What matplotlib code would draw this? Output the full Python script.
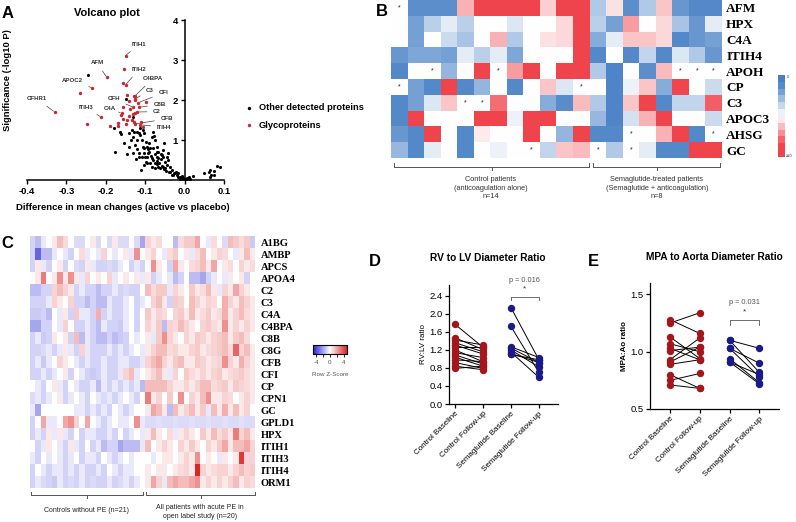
import numpy as np
import matplotlib
matplotlib.use('Agg')
import matplotlib.pyplot as plt
from matplotlib.colors import LinearSegmentedColormap

plt.rcParams['font.family'] = ['Liberation Sans', 'DejaVu Sans']

# ---------------- Panel A: volcano data ----------------
other_x = [-0.244, -0.148, -0.130, -0.178, -0.165, -0.162, -0.176, -0.153, -0.145, -0.134,
           -0.136, -0.130, -0.126, -0.121, -0.120, -0.113, -0.113, -0.109, -0.106, -0.103,
           -0.111, -0.104, -0.099, -0.096, -0.092, -0.090, -0.088, -0.083, -0.079, -0.077,
           -0.075, -0.071, -0.083, -0.079, -0.075, -0.071, -0.067, -0.064, -0.060, -0.058,
           -0.054, -0.052, -0.050, -0.045, -0.041, -0.037, -0.033, -0.024, -0.020, -0.016,
           -0.011, -0.007, -0.005, -0.001, 0.002, 0.005, 0.010, 0.022, 0.048, 0.063,
           0.064, 0.066, 0.065, 0.075, 0.075, 0.081, 0.089, -0.091, -0.098, -0.096,
           -0.094, -0.104, -0.116, -0.115, -0.123, -0.088, -0.083, -0.071, -0.067, -0.062,
           -0.055, -0.052, -0.047, -0.045, -0.041, -0.075, -0.079, -0.071, -0.060, -0.055,
           -0.067, -0.075, -0.096, -0.100, -0.109, -0.121, -0.128, -0.140, -0.130, -0.115,
           -0.106, -0.103, -0.028, -0.022, -0.016, -0.011, -0.007, -0.003, 0.001, 0.007,
           0.014, -0.033, -0.039, -0.142, -0.086, -0.069, -0.058, -0.049, -0.036, -0.030]
other_y = [2.62, 2.02, 1.58, 1.29, 1.19, 1.15, 0.69, 0.93, 0.65, 1.25,
           1.00, 1.08, 0.88, 1.21, 0.77, 1.29, 1.13, 1.00, 0.83, 0.67,
           0.25, 0.38, 0.46, 0.58, 0.67, 0.71, 0.79, 1.08, 1.21, 1.10,
           1.00, 0.83, 0.54, 0.50, 0.65, 0.58, 0.71, 0.42, 0.52, 0.63,
           0.75, 0.92, 0.46, 0.38, 0.50, 0.33, 0.25, 0.18, 0.13, 0.08,
           0.07, 0.04, 0.03, 0.02, 0.03, 0.04, 0.08, 0.10, 0.17, 0.21,
           0.25, 0.13, 0.08, 0.23, 0.13, 0.35, 0.33, 0.92, 0.96, 0.83,
           0.77, 0.79, 0.58, 0.67, 0.52, 0.42, 0.33, 0.40, 0.33, 0.29,
           0.33, 0.27, 0.23, 0.58, 0.67, 0.29, 0.79, 0.71, 0.65, 0.58,
           0.54, 0.42, 0.42, 0.58, 0.58, 1.00, 1.21, 0.83, 0.67, 1.17,
           1.25, 1.17, 0.17, 0.21, 0.17, 0.02, 0.10, 0.06, 0.01, 0.02,
           0.03, 0.13, 0.21, 1.17, 0.60, 0.48, 0.36, 0.30, 0.20, 0.12]
glyco_x = [-0.330, -0.248, -0.265, -0.234, -0.198, -0.212, -0.150, -0.154, -0.156, -0.150,
           -0.147, -0.190, -0.168, -0.157, -0.160, -0.156, -0.128, -0.125, -0.127, -0.125,
           -0.098, -0.115, -0.118, -0.131, -0.138, -0.132, -0.127, -0.121, -0.133, -0.128,
           -0.126, -0.145, -0.150, -0.140, -0.112, -0.105, -0.110, -0.170, -0.162, -0.140]
glyco_y = [1.70, 1.39, 2.17, 2.30, 2.57, 1.57, 3.11, 2.77, 2.42, 2.38,
           2.12, 1.36, 1.35, 1.53, 1.67, 1.82, 2.10, 2.03, 2.00, 2.11,
           1.95, 1.82, 1.93, 1.82, 1.78, 1.66, 1.68, 1.70, 1.50, 1.45,
           1.40, 1.50, 1.40, 1.60, 1.38, 1.33, 1.45, 1.42, 1.62, 1.97]
label_names = ['CFHR1', 'APOC2', 'AFM', 'ITIH3', 'ITIH1', 'ITIH2', 'C4BPA', 'C3', 'CFI',
               'CFH', 'C8B', 'C4A', 'C2', 'CFB', 'ITIH4']
label_point = [0, 3, 4, 5, 6, 9, 19, 17, 22, 23, 21, 14, 27, 30, 34]
label_text_xy = [(-0.375, 2.03), (-0.285, 2.50), (-0.222, 2.93), (-0.250, 1.82), (-0.115, 3.40),
                 (-0.115, 2.77), (-0.080, 2.54), (-0.088, 2.25), (-0.054, 2.18), (-0.180, 2.03),
                 (-0.063, 1.89), (-0.190, 1.78), (-0.070, 1.71), (-0.045, 1.53), (-0.052, 1.32)]

# ---------------- Panel B: heatmap data ----------------
b_rows = ['AFM', 'HPX', 'C4A', 'ITIH4', 'APOH', 'CP', 'C3', 'APOC3', 'AHSG', 'GC']
b_values = [
    [5, 1.2, 1.2, 1.2, 6.6, 10, 10, 10, 10, 6, 10, 10, 3.2, 5.6, 1.2, 3.2, 6.2, 1.5, 0.8, 0.8],
    [5, 1.8, 3.4, 4.4, 3.4, 5, 5, 4.2, 5, 5, 5.8, 10, 3.4, 1.8, 7, 5, 5.8, 3, 1.5, 4.4],
    [5, 1.8, 5, 3.8, 3.0, 5, 6.6, 3.2, 5, 5.6, 5.8, 10, 2.2, 4.4, 6.2, 6.2, 5.8, 0.8, 1.5, 1.8],
    [1.5, 2, 2, 1.8, 4.4, 3.4, 4.4, 2, 5, 5, 5, 10, 0.8, 5, 0.8, 3.6, 0.8, 4.2, 3.2, 1.5],
    [0.8, 5, 5, 2.5, 5, 10, 5, 7, 10, 5, 10, 10, 3.2, 0.5, 5, 1.2, 6.4, 5, 5, 5],
    [5, 1.8, 0.8, 10, 0.8, 2.5, 5, 0.8, 5, 6.2, 4.2, 5, 5, 0.5, 4.6, 6.2, 2.2, 9.5, 5, 3.8],
    [0.8, 1.8, 4.2, 6.2, 5, 5, 8, 5, 5, 2.2, 1.0, 6.4, 3.2, 0.5, 6.2, 10, 0.8, 3.6, 3.6, 8.3],
    [0.8, 10, 5, 5, 5, 10, 10, 4.6, 10, 10, 5, 5, 2.6, 0.5, 4.0, 6.6, 9.6, 5, 5, 3.8],
    [1.5, 0.8, 10, 5, 0.8, 5.4, 5, 5, 10, 5, 2.5, 10, 0.8, 0.8, 5, 5, 6.6, 9.6, 0.8, 5],
    [2.6, 0.8, 4.4, 5, 0.8, 5, 4.6, 5, 5, 3.6, 6.2, 6.4, 5, 3.2, 5, 4.4, 0.8, 0.8, 10, 10],
]
b_star_rows = [0, 4, 4, 4, 4, 4, 5, 5, 6, 6, 8, 8, 9, 9, 9]
b_star_cols = [0, 2, 6, 17, 18, 19, 0, 11, 4, 5, 14, 19, 8, 12, 14]
b_groups = ['Control patients\n(anticoagulation alone)\nn=14',
            'Semaglutide-treated patients\n(Semaglutide + anticoagulation)\nn=8']

# ---------------- Panel C: heatmap data ----------------
c_rows = ['A1BG', 'AMBP', 'APCS', 'APOA4', 'C2', 'C3', 'C4A', 'C4BPA', 'C8B', 'C8G', 'CFB',
          'CFI', 'CP', 'CPN1', 'GC', 'GPLD1', 'HPX', 'ITIH1', 'ITIH3', 'ITIH4', 'ORM1']
c_controls = [
    [-1, -1.5, -0.5, 0, 0.5, 1.5, 0.8, 0, -0.8, -0.8, 0, 0.5, -0.8, 0, -0.8, 0.5, -0.8, -0.8, 0, -0.8, -2],
    [-1, -3.5, -1.5, -1.5, -0.5, 0, -0.5, -1, 0, 0.8, -0.5, 0, -0.5, 1, 0, -0.5, 0, 0.5, -0.5, 2.5, 0],
    [-1, 0.5, -0.5, -1, 0, 0.5, -1, 0, -0.8, -1, 0.5, -0.5, -1, -1, -0.8, -1, -0.5, 0, -1, -0.5, -1],
    [0, 0.5, 3, 0, 0.5, 2.5, 0.5, 2.5, 0.5, -0.5, 1, 0, 0.5, 0, 1, -0.5, 0, 0.5, 0, 0.5, -0.5],
    [-1.5, -1.5, -1, -1, 1, 1.5, 1, 0.5, -1, -0.5, -1, -1, -1.5, -1, -1, -0.5, -1, -0.8, -1, -1, 0],
    [-1, -1, -1, -0.5, 1, 0.5, 0, 1, -1, -1, -1.5, -1, -1.5, -1.5, -0.5, -1, -1, -0.5, 0, -1, -0.5],
    [-1.2, -1.2, -1, -1.5, 0, -0.5, 0.5, -1, 1.2, -0.5, -0.5, -1, 1.8, -1, -0.5, -1, -1, -0.5, 0, -1, 0],
    [-2, -2, -1, -1, 0, -0.5, 1, 0, -1, -1, -0.5, -1, -1.5, -0.5, -1, -1, -1.2, -0.5, 0, -1, 0],
    [-1, -0.5, -1.2, -1, 0.5, 0, 0.5, -1, 1.5, -1.5, -0.5, -1, -1.5, -1.5, -1, -1.5, -1.2, -1, 0, -0.5, 0],
    [-1, -1, -0.8, -0.5, -1, -0.5, 0.5, -0.5, -1, 1, -0.5, -1, -1, -1, -0.5, -1, -0.5, -1, -0.5, 0, -0.5],
    [-1, -0.5, -1.2, -0.5, 0, 1, 0.5, 0, -0.5, -1, -0.5, -1, -1, -0.5, -1, -1, -0.5, -0.5, -1, -1, -0.5],
    [-1, -1, -0.5, -1, -0.5, 0, 0.5, -1, 0, -0.5, -1, -1.2, -1, -0.5, -1, -1, -0.5, 1, 1.5, -0.5, 0],
    [0, -0.5, -1, 0, 0.5, -0.5, -1, 0, -0.5, -1, -1, -0.5, -1.5, -0.5, -1, -0.5, -1, -0.5, -1, -0.5, -1.5],
    [-0.8, -0.5, -1, -0.5, 0, 0.5, -1, -0.5, 0, -0.5, -1, 0, -0.5, -0.8, -0.5, -1, -0.5, 0, -0.5, -1, 0],
    [-0.5, -2, 0, 0, 0, 0, 0, 0, -0.5, -0.5, -1, -0.5, -1, -0.5, -1, 0, -0.5, -1, -0.5, 0, 0],
    [-1, 0, 2, -0.5, -0.5, 0, 2, 2.5, 1, 0, 2, 0, -0.5, -1, -0.5, 0, -0.5, -0.5, 0, 2.5, -0.5],
    [-1, -0.5, -1, 0.5, -0.5, 0.5, -0.5, -1, 0, -1, -0.5, -0.5, -1, -1, -0.5, -1, 0, -1, -0.5, 0, -0.5],
    [0, -1, -0.5, 0.5, 0, -0.5, -1, 0.5, -0.5, -1, 0, -1, -0.5, -1.5, -1, -1, -2, -1.5, -1.5, -1.5, -0.5],
    [-0.5, -1, 0, -0.5, 0, -0.5, -1, -0.5, 0, -1, -0.5, -0.5, -1, 0, -0.5, -1, -0.5, 0, -0.5, 0, 0],
    [-1, 0, -0.5, -1, -0.5, -0.5, -1, -0.5, -1, -0.5, -1, -1, -0.5, -1, 0, -0.5, -1, -0.5, -0.5, 0, 0],
    [-1, -0.5, -0.8, -1, -1.2, -0.5, -1, -0.8, -1, -0.5, -1, -0.8, -1, -1, -0.5, -1, -0.8, -0.5, -1, -0.5, 0],
]
c_patients = [
    [1, 0.5, 0.8, 0, 0, -1.5, 0.8, 1.2, 1.2, 2, 0, -0.5, 0.8, 0, -0.8, 1.5, 1.2, 0.8, 1.2, -1.2],
    [0.5, 1, 0, -0.5, 0.8, 1.2, 0, 0.5, -0.5, 0.8, 1.5, 0, 0.5, 1, 0.8, 0, -0.5, 0.5, 1.5, 0.5],
    [0, 2.5, 0.5, 0, -1, 2, 0.5, 0, 0.8, 1, 1.5, 0.5, 2, 0, 0.5, 0.8, 0, 1, 0.5, 0.8],
    [0.5, -1, -0.5, 0, -0.5, -1.5, -1, 0, -1.5, -1.5, -2, -1, -0.5, 0, -0.5, 0.5, 0, 0.5, -1, 0],
    [1.5, 0.8, 1.2, 1.2, -0.5, 1, 0.5, 0, 1.2, 0.5, 0.8, 1.5, 0.5, -0.5, 1, 0.5, 2, 1, 0.5, 0],
    [0, 1, 1.5, 0.5, -1, 1.2, 1, 0, 1.5, 1, 0.5, 1, 0.8, 0, 1.8, 1, 0.5, 1.5, 1, 0.5],
    [1.2, 0.5, 1, 0.8, 0, 1, 1.2, 0.5, 1.5, 0.5, 0.8, 1.2, 0.5, 0.8, 1.8, 0.5, 1, 1.5, 0.8, 0.5],
    [1, 0.5, 1.2, -1.5, 1, 0.8, 1.5, 1, 0.5, 0, 1, 1.2, 0.8, 0.5, 2.5, 0.5, 1, 0.5, 1, 0.5],
    [0.5, -0.5, 1.2, 2.5, 1, 0.5, 0, 1, 0.5, 1.2, 1, 0.5, 1, 1.2, 1.5, 0.5, 1.2, 1.5, 0.8, 0],
    [0.5, 1, 1.5, 1.5, 0.8, 1, 0.5, 0.5, 1, 1.2, 0.5, 0.8, 1, 1.2, 1.5, 0.8, 3.5, 1, 1.5, 0.5],
    [1, 1.5, 2, 1, 0.5, 1.2, 1.5, 0.5, 0.5, 1.2, 1, 0.5, 0.8, 1, 2.5, 1, 0.5, 1.8, 1, 0.5],
    [0.5, 1, 1.5, 0.5, -0.5, 1, 0, 1.2, 0.8, 0.5, 1, 0.5, 1, 1.2, 0.5, 0.8, 1, 1.2, 0.8, 0.5],
    [1.5, 1.5, 1.5, 1.5, 1, 0.5, 0.5, 1, 0.5, 1, 1.5, 1.5, 0.8, 1, 1.2, 0.5, 1.2, 1, 0.8, 0.5],
    [3, 0.5, 1, 0, 1.2, 0, 2.5, 0, 1, 0.5, 1.5, 2.5, 0.5, 0.5, 1, 0.8, 0, 0.5, 1, 0.5],
    [0.5, 2, 1.5, 0.5, -1.5, 1.5, 0.5, 1, 1.5, 0.5, 1.2, -0.5, 1.5, 0.5, 1.8, 0.5, 1.5, 0.5, 1, 0],
    [-0.8, -0.8, -0.7, -0.8, -0.8, -0.7, -0.8, -0.8, -0.7, -0.8, -0.8, -0.7, -0.8, -0.8, -0.7, -0.8, -0.8, -0.7, -0.8, -0.8],
    [0.5, 1.5, 0.5, 0, 0.8, -0.5, 0.5, 1, 0.5, 0, 1.2, 0.5, 1.5, 0.8, 1.2, 0.5, 3, 1, 1.5, 0.5],
    [1.5, 0, 0.5, 1, 0.5, 0, 1, 0.5, 1.2, 0.5, 0, 1, 0.5, 1.2, 2, 0.5, 1.5, 1.5, 2, 1],
    [0, -0.5, 0, 0.5, 0.5, 0, 0.5, 1, 0.5, 2.5, 0, 0.5, 0, -0.5, 0.5, 0, 0.5, 4.5, 1, 1],
    [0.5, 0, 0.5, 0.5, 0, 0.5, 0.8, 1, 0.5, 5, 1, 0.5, 0.8, 1, 1, 0.5, 1, 1.5, 1, 1.2],
    [0.5, 2, 1, -0.5, 1.5, 2, 1.5, 1.5, 2, 2.5, 0.5, 1, 0.5, 1, 0.5, 1, 1.5, 0.5, 1, 0.8],
]
c_groups = ['Controls without PE (n=21)', 'All patients with acute PE in\nopen label study (n=20)']

# ---------------- Panels D and E data ----------------
categories = ['Control Baseline', 'Control Follow-up', 'Semaglutide Baseline', 'Semaglutide Follow-up']
rv_ctrl_base = [1.77, 1.47, 1.42, 1.36, 1.31, 1.26, 1.20, 1.14, 1.09, 1.04, 0.98, 0.92, 0.84, 0.79]
rv_ctrl_follow = [1.26, 1.21, 1.31, 1.16, 1.11, 1.26, 0.94, 1.03, 0.89, 0.84, 0.94, 0.79, 0.76, 0.84]
rv_sema_base = [2.14, 1.72, 1.27, 1.24, 1.20, 1.15, 1.10, 1.12]
rv_sema_follow = [0.98, 0.70, 1.03, 0.92, 0.82, 0.59, 0.98, 0.92]
rv_p = 'p = 0.016'
mpa_ctrl_base = [1.28, 1.25, 1.13, 1.07, 1.03, 1.01, 0.93, 0.91, 0.89, 0.80, 0.75, 0.71]
mpa_ctrl_follow = [1.16, 1.34, 0.94, 1.00, 0.93, 1.04, 1.12, 1.04, 0.93, 0.68, 0.81, 0.68]
mpa_sema_base = [1.10, 1.10, 1.03, 1.03, 0.94, 0.91, 0.91]
mpa_sema_follow = [1.03, 0.82, 0.90, 0.78, 0.73, 0.80, 0.72]
mpa_p = 'p = 0.031'

# ================= drawing =================
W, H = 796, 522
fig = plt.figure(figsize=(W / 100, H / 100), dpi=100)
fig.patch.set_facecolor('white')


def px_axes(x0, y0, x1, y1):
    return fig.add_axes([x0 / W, 1 - y1 / H, (x1 - x0) / W, (y1 - y0) / H])


# overlay for annotations in pixel coordinates
ov = fig.add_axes([0, 0, 1, 1], zorder=10)
ov.set_xlim(0, W)
ov.set_ylim(H, 0)
ov.axis('off')
ov.patch.set_alpha(0)

RED = '#c62a2f'
DARK_RED = '#a5161c'
NAVY = '#1b1a8a'

# ---- Panel A
axA = px_axes(27, 20, 224, 180)
axA.scatter(other_x, other_y, s=5, color='black', linewidths=0, zorder=3)
axA.scatter(glyco_x, glyco_y, s=6, color=RED, linewidths=0, zorder=4)
for name, idx, (tx, ty) in zip(label_names, label_point, label_text_xy):
    axA.annotate(name, xy=(glyco_x[idx], glyco_y[idx]), xytext=(tx, ty),
                 fontsize=4.4, fontweight='bold', color='#333333', ha='center', va='center',
                 arrowprops=dict(arrowstyle='-', color='#444444', lw=0.5, shrinkA=2.5, shrinkB=1))
axA.set_xlim(-0.4, 0.1)
axA.set_ylim(0, 4)
axA.spines['left'].set_position(('data', 0))
axA.spines['top'].set_visible(False)
axA.spines['right'].set_visible(False)
for s in ['left', 'bottom']:
    axA.spines[s].set_linewidth(1.1)
axA.set_xticks([-0.4, -0.3, -0.2, -0.1, 0.0, 0.1])
axA.set_xticklabels(['-0.4', '-0.3', '-0.2', '-0.1', '0.0', '0.1'])
axA.set_yticks([1, 2, 3, 4])
axA.tick_params(length=3, width=1, labelsize=6.8, pad=2)
for t in axA.get_xticklabels() + axA.get_yticklabels():
    t.set_fontweight('bold')
axA.patch.set_alpha(0)

ov.text(107, 13, 'Volcano plot', fontsize=8, fontweight='bold', ha='center', va='center')
ov.text(8, 80, 'Significance (-log10 P)', fontsize=6.8, fontweight='bold', rotation=90,
        ha='center', va='center')
ov.text(123, 208, 'Difference in mean changes (active vs placebo)', fontsize=6.8,
        fontweight='bold', ha='center', va='center')
ov.scatter([249], [108], s=6, color='black', linewidths=0)
ov.scatter([249], [125], s=6, color=RED, linewidths=0)
ov.text(259, 108, 'Other detected proteins', fontsize=6.7, fontweight='bold', va='center')
ov.text(259, 125, 'Glycoproteins', fontsize=6.7, fontweight='bold', va='center')

# ---- Panel B
cmapB = LinearSegmentedColormap.from_list(
    'bwrB', [(0.0, '#4780c6'), (0.12, '#5c8fcc'), (0.5, '#ffffff'), (0.88, '#f0474f'), (1.0, '#f0444c')])
axB = px_axes(391, 0, 722, 158)
axB.imshow(np.array(b_values), cmap=cmapB, vmin=0, vmax=10, aspect='auto', interpolation='nearest')
for r, c in zip(b_star_rows, b_star_cols):
    axB.text(c, r, '*', fontsize=5, ha='center', va='center', color='#222222')
axB.set_xticks([])
axB.yaxis.tick_right()
axB.set_yticks(range(len(b_rows)))
axB.set_yticklabels(b_rows, fontfamily='Liberation Serif', fontweight='bold', fontsize=9.5)
axB.tick_params(axis='y', length=0, pad=3)
for s in axB.spines.values():
    s.set_visible(False)

axBc = px_axes(778, 75, 785, 157)
axBc.imshow(np.linspace(0, 10, 12).reshape(-1, 1), cmap=cmapB, vmin=0, vmax=10, aspect='auto',
            interpolation='nearest')
axBc.set_xticks([])
axBc.set_yticks([])
for s in axBc.spines.values():
    s.set_visible(False)
ov.text(787, 77, '0', fontsize=3, va='center', ha='left', color='#444444')
ov.text(786, 156, '\u226510', fontsize=3, va='center', ha='left', color='#444444')


def bracket(x0, x1, y, up=4, down=3):
    ov.plot([x0, x1], [y, y], color='#555555', lw=0.7)
    ov.plot([x0, x0], [y, y - up], color='#555555', lw=0.7)
    ov.plot([x1, x1], [y, y - up], color='#555555', lw=0.7)
    xm = (x0 + x1) / 2
    ov.plot([xm, xm], [y, y + down], color='#555555', lw=0.7)


bracket(394, 589, 167)
bracket(593, 720, 167)
ov.text(491, 188, b_groups[0], fontsize=5.3, ha='center', va='center', color='#333333', linespacing=1.25)
ov.text(657, 188, b_groups[1], fontsize=5.3, ha='center', va='center', color='#333333', linespacing=1.25)

# ---- Panel C
cmapC = LinearSegmentedColormap.from_list('bwrC', ['#2424d8', '#ffffff', '#e02424'])
c_matrix = np.hstack([np.array(c_controls), np.array(c_patients)])
axC = px_axes(30, 236, 255, 488)
axC.imshow(c_matrix, cmap=cmapC, vmin=-5, vmax=5, aspect='auto', interpolation='nearest')
axC.set_xticks([])
axC.yaxis.tick_right()
axC.set_yticks(range(len(c_rows)))
axC.set_yticklabels(c_rows, fontfamily='Liberation Serif', fontweight='bold', fontsize=7.6)
axC.tick_params(axis='y', length=0, pad=4)
for s in axC.spines.values():
    s.set_visible(False)

axCc = px_axes(313, 345, 347, 354)
axCc.imshow(np.linspace(-5, 5, 100).reshape(1, -1), cmap=cmapC, vmin=-5, vmax=5, aspect='auto',
            extent=[-5, 5, 0, 1])
axCc.set_yticks([])
axCc.set_xticks([-4, -2, 0, 2, 4])
axCc.set_xticklabels(['-4', '', '0', '', '4'])
axCc.tick_params(axis='x', length=2.5, width=0.6, labelsize=4.5, labelcolor='#555555', pad=2)
for s in axCc.spines.values():
    s.set_linewidth(0.8)
ov.text(330, 374, 'Row Z-Score', fontsize=4.5, ha='center', va='center', color='#555555')

bracket(31, 143, 495, up=3, down=3)
bracket(146, 255, 495, up=3, down=3)
ov.text(87, 510, c_groups[0], fontsize=5, ha='center', va='center', color='#222222')
ov.text(200, 512, c_groups[1], fontsize=5, ha='center', va='center', color='#222222', linespacing=1.3)


# ---- Panels D, E
def paired_panel(ax, groups, ylim, yticks, ylabel, p_text, bracket_y, yl_bold):
    for (base, follow, color, x0) in groups:
        for b, f in zip(base, follow):
            ax.plot([x0, x0 + 1], [b, f], color='black', lw=0.7, zorder=2)
        ax.plot([x0] * len(base), base, 'o', color=color, ms=4.3, zorder=3, mec=color)
        ax.plot([x0 + 1] * len(follow), follow, 'o', color=color, ms=4.3, zorder=3, mec=color)
    ax.set_ylim(*ylim)
    ax.set_yticks(yticks)
    ax.set_xticks(range(4))
    ax.set_xticklabels(categories, rotation=45, ha='right', rotation_mode='anchor', fontsize=5.8)
    ax.tick_params(axis='y', labelsize=6.8, length=3, width=0.9, pad=1.5)
    ax.tick_params(axis='x', length=3, width=0.9, pad=1.5)
    ax.spines['top'].set_visible(False)
    ax.spines['right'].set_visible(False)
    for s in ['left', 'bottom']:
        ax.spines[s].set_linewidth(0.9)
    ax.set_ylabel(ylabel, fontsize=5.8, fontweight='bold' if yl_bold else 'normal', labelpad=2)
    y0, h = bracket_y
    ax.plot([2, 2, 3, 3], [y0 - h, y0, y0, y0 - h], color='#555555', lw=0.6, clip_on=False)
    span = ylim[1] - ylim[0]
    ax.text(2.5, y0 + 0.035 * span, '*', ha='center', va='bottom', fontsize=6, color='#333333')
    ax.text(2.5, y0 + 0.11 * span, p_text, ha='center', va='bottom', fontsize=5.3, color='#555555')
    ax.patch.set_alpha(0)


axD = px_axes(449, 285, 558, 404)
axD.set_xlim(-0.21, 3.68)
paired_panel(axD, [(rv_ctrl_base, rv_ctrl_follow, DARK_RED, 0), (rv_sema_base, rv_sema_follow, NAVY, 2)],
             (0, 2.64), [0.0, 0.4, 0.8, 1.2, 1.6, 2.0, 2.4], 'RV:LV ratio', rv_p, (2.38, 0.08), False)
axD.set_yticklabels(['0.0', '0.4', '0.8', '1.2', '1.6', '2.0', '2.4'])

axE = px_axes(650, 283, 779, 409)
axE.set_xlim(-0.67, 3.66)
paired_panel(axE, [(mpa_ctrl_base, mpa_ctrl_follow, DARK_RED, 0), (mpa_sema_base, mpa_sema_follow, NAVY, 2)],
             (0.5, 1.6), [0.5, 1.0, 1.5], 'MPA:Ao ratio', mpa_p, (1.28, 0.045), True)

ov.text(488, 258, 'RV to LV Diameter Ratio', fontsize=7.3, fontweight='bold', ha='center', va='center')
ov.text(714, 257, 'MPA to Aorta Diameter Ratio', fontsize=7.3, fontweight='bold', ha='center', va='center')

# panel letters
for letter, x, y in [('A', 8, 13), ('B', 382, 11), ('C', 7, 244), ('D', 375, 262), ('E', 593, 261)]:
    ov.text(x, y, letter, fontsize=12, fontweight='bold', ha='center', va='center')

fig.savefig('out.png', dpi=100, facecolor='white')
